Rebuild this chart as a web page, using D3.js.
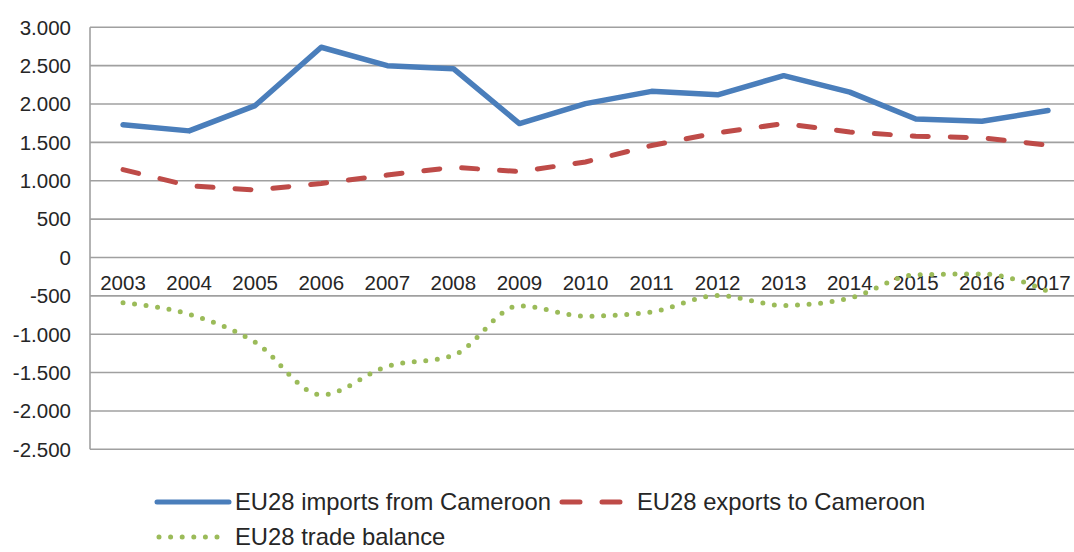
<!DOCTYPE html>
<html>
<head>
<meta charset="utf-8">
<script src="https://cdn.jsdelivr.net/npm/d3@7"></script>
<style>
  body { margin: 0; background: #fff; }
  text { font-family: "Liberation Sans", Arial, sans-serif; fill: #262626; }
</style>
</head>
<body>
<div id="chart"></div>
<script>
const years = ["2003","2004","2005","2006","2007","2008","2009","2010","2011","2012","2013","2014","2015","2016","2017"];
const imports = [1730, 1650, 1980, 2740, 2500, 2460, 1745, 2005, 2165, 2120, 2370, 2155, 1805, 1775, 1915];
const exports = [1145, 935, 880, 965, 1075, 1175, 1120, 1245, 1460, 1625, 1745, 1635, 1580, 1560, 1465];
const balance = [-590, -740, -1105, -1790, -1420, -1275, -630, -765, -710, -495, -625, -530, -225, -215, -440];
const yTicks = [3000, 2500, 2000, 1500, 1000, 500, 0, -500, -1000, -1500, -2000, -2500];

const width = 1074, height = 552;

const svg = d3.select("#chart").append("svg")
    .attr("width", width)
    .attr("height", height);

const x = d3.scaleBand()
    .domain(years)
    .range([90, 1081])
    .padding(0);

const y = d3.scaleLinear()
    .domain([-2500, 3000])
    .range([449.3, 27.3]);

const locale = d3.formatLocale({ decimal: ",", thousands: ".", grouping: [3], currency: ["", "€"], minus: "-" });
const fmt = locale.format(",d");

// gridlines
svg.append("g")
    .selectAll("line")
    .data(yTicks)
    .enter()
  .append("line")
    .attr("x1", 90)
    .attr("x2", width)
    .attr("y1", d => y(d))
    .attr("y2", d => y(d))
    .attr("stroke", "#a0a0a0")
    .attr("stroke-width", 1.6);

// y axis line
svg.append("line")
    .attr("x1", 90).attr("x2", 90)
    .attr("y1", y(3000)).attr("y2", y(-2500))
    .attr("stroke", "#a0a0a0")
    .attr("stroke-width", 1.6);

// y labels
svg.append("g")
    .selectAll("text")
    .data(yTicks)
    .enter()
  .append("text")
    .attr("x", 71)
    .attr("y", d => y(d))
    .attr("dy", "0.36em")
    .attr("text-anchor", "end")
    .style("font-size", "20.5px")
    .text(d => fmt(d));

// x labels (sit just under the zero line)
svg.append("g")
    .selectAll("text")
    .data(years)
    .enter()
  .append("text")
    .attr("x", d => x(d) + x.bandwidth() / 2)
    .attr("y", y(0) + 33)
    .attr("text-anchor", "middle")
    .style("font-size", "20.5px")
    .text(d => d);

const cx = (d, i) => x(years[i]) + x.bandwidth() / 2;

const lineStraight = d3.line().x(cx).y(d => y(d));
const lineSmooth = d3.line().x(cx).y(d => y(d)).curve(d3.curveMonotoneX);

svg.append("path")
    .datum(exports)
    .attr("d", lineStraight)
    .attr("fill", "none")
    .attr("stroke", "#be4b48")
    .attr("stroke-width", 5)
    .attr("stroke-linecap", "round")
    .attr("stroke-dasharray", "16 22");

svg.append("path")
    .datum(imports)
    .attr("d", lineStraight)
    .attr("fill", "none")
    .attr("stroke", "#4a7ebb")
    .attr("stroke-width", 5.5)
    .attr("stroke-linejoin", "round")
    .attr("stroke-linecap", "round");

svg.append("path")
    .datum(balance)
    .attr("d", lineSmooth)
    .attr("fill", "none")
    .attr("stroke", "#9bbb59")
    .attr("stroke-width", 5)
    .attr("stroke-linecap", "round")
    .attr("stroke-dasharray", "0 11.6");

// legend
const legend = [
    { label: "EU28 imports from Cameroon", color: "#4a7ebb", dash: null, x: 157, y: 502, w: 72, tx: 235 },
    { label: "EU28 exports to Cameroon", color: "#be4b48", dash: "18 22", x: 562, y: 502, w: 62, tx: 637 },
    { label: "EU28 trade balance", color: "#9bbb59", dash: "0 11.6", x: 159, y: 537, w: 64, tx: 235 }
];

const lg = svg.append("g")
    .selectAll("g")
    .data(legend)
    .enter()
  .append("g");

lg.append("line")
    .attr("x1", d => d.x)
    .attr("x2", d => d.x + d.w)
    .attr("y1", d => d.y)
    .attr("y2", d => d.y)
    .attr("stroke", d => d.color)
    .attr("stroke-width", 5)
    .attr("stroke-linecap", "round")
    .attr("stroke-dasharray", d => d.dash);

lg.append("text")
    .attr("x", d => d.tx)
    .attr("y", d => d.y)
    .attr("dy", "0.35em")
    .style("font-size", "23.8px")
    .text(d => d.label);
</script>
</body>
</html>
